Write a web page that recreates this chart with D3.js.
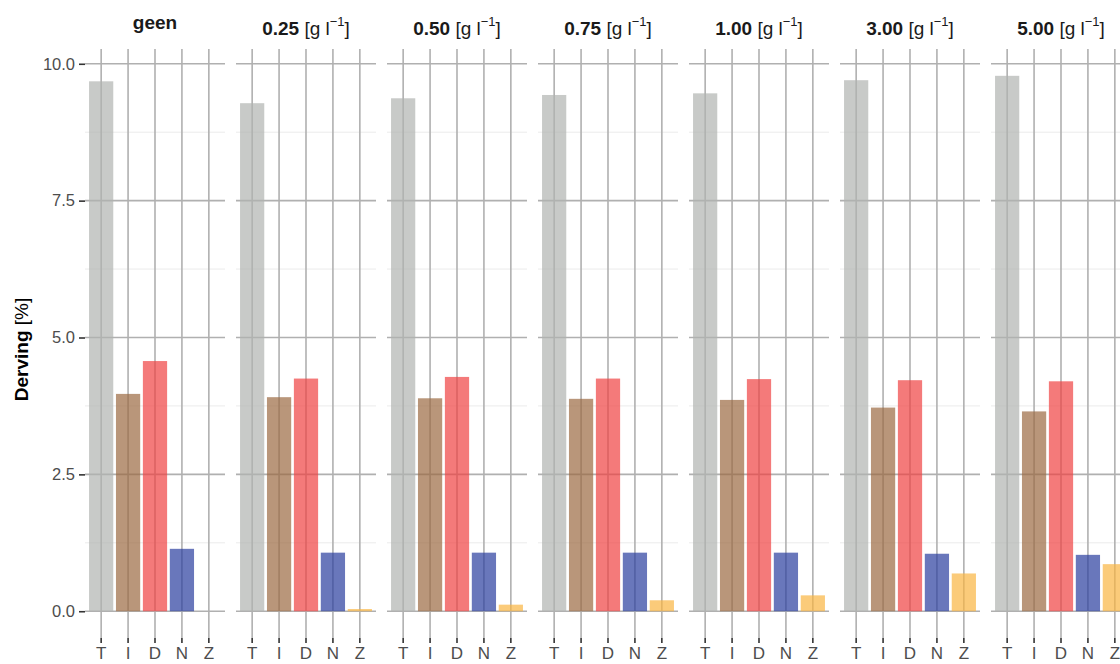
<!DOCTYPE html>
<html>
<head>
<meta charset="utf-8">
<script src="https://cdn.jsdelivr.net/npm/d3@7"></script>
<style>
  html, body { margin: 0; padding: 0; background: #ffffff; }
  svg { display: block; font-family: "Liberation Sans", Arial, sans-serif; }
</style>
</head>
<body>
<svg id="chart" width="1120" height="664"></svg>
<script>
// ---- data ----
const categories = ["T", "I", "D", "N", "Z"];
const panelKeys = ["geen", "0.25", "0.50", "0.75", "1.00", "3.00", "5.00"];
const valuesT = [9.68, 9.28, 9.37, 9.43, 9.46, 9.70, 9.78];
const valuesI = [3.97, 3.91, 3.89, 3.88, 3.86, 3.72, 3.65];
const valuesD = [4.57, 4.25, 4.28, 4.25, 4.24, 4.22, 4.20];
const valuesN = [1.14, 1.07, 1.07, 1.07, 1.07, 1.05, 1.03];
const valuesZ = [0.00, 0.04, 0.12, 0.20, 0.29, 0.69, 0.86];
const yTicks = [0, 2.5, 5, 7.5, 10];
const yMinorTicks = [1.25, 3.75, 6.25, 8.75];
const yTitle = ["Derving", " [%]"];
const colors = { T: "#b1b3b1", I: "#9b6941", D: "#ef4142", N: "#2a3d9e", Z: "#f9b541" };

const seriesByCat = { T: valuesT, I: valuesI, D: valuesD, N: valuesN, Z: valuesZ };

// ---- layout ----
const svg = d3.select("#chart");
const panelLeft0 = 85, panelW = 140, panelGap = 11;
const panelTop = 49, panelBottom = 638;

const y = d3.scaleLinear().domain([-0.489, 10.27]).range([panelBottom, panelTop]);
const x = d3.scaleBand().domain(categories).range([0, panelW]).paddingInner(0.1).paddingOuter(0.15);

const panelX = d3.scaleLinear().domain([0, 1]).range([panelLeft0, panelLeft0 + panelW + panelGap]);

panelKeys.forEach((key, i) => {
  const g = svg.append("g").attr("transform", `translate(${panelX(i)},0)`);

  // minor grid
  g.selectAll("line.minor").data(yMinorTicks).join("line")
    .attr("x1", 0).attr("x2", panelW)
    .attr("y1", d => y(d)).attr("y2", d => y(d))
    .attr("stroke", "#ebebeb").attr("stroke-width", 1);

  // major grid horizontal
  g.selectAll("line.hmaj").data(yTicks).join("line")
    .attr("x1", 0).attr("x2", panelW)
    .attr("y1", d => y(d)).attr("y2", d => y(d))
    .attr("stroke", "#b0b0b0").attr("stroke-width", 1.6);

  // major grid vertical
  g.selectAll("line.vmaj").data(categories).join("line")
    .attr("x1", d => x(d) + x.bandwidth() / 2).attr("x2", d => x(d) + x.bandwidth() / 2)
    .attr("y1", panelTop).attr("y2", panelBottom)
    .attr("stroke", "#b0b0b0").attr("stroke-width", 1.6);

  // bars
  const data = categories.map(c => ({ cat: c, v: seriesByCat[c][i] }));
  g.selectAll("rect.bar").data(data).join("rect")
    .attr("x", d => x(d.cat))
    .attr("width", x.bandwidth())
    .attr("y", d => y(d.v))
    .attr("height", d => y(0) - y(d.v))
    .attr("fill", d => colors[d.cat])
    .attr("fill-opacity", 0.7);

  // x axis
  const xa = g.append("g").attr("transform", `translate(0,${panelBottom})`)
    .call(d3.axisBottom(x).tickSize(5).tickPadding(4));
  xa.select(".domain").remove();
  xa.selectAll(".tick line").attr("stroke", "#333333").attr("stroke-width", 1.6);
  xa.selectAll(".tick text").attr("fill", "#4d4d4d")
    .style("font-size", "17px").style("font-family", "Liberation Sans, Arial, sans-serif");

  // title
  const t = g.append("text")
    .attr("x", panelW / 2)
    .attr("y", i === 0 ? 29 : 35)
    .attr("text-anchor", "middle")
    .attr("fill", "#1a1a1a")
    .style("font-size", "19px");
  if (key === "geen") {
    t.append("tspan").attr("font-weight", "bold").text(key);
  } else {
    t.append("tspan").attr("font-weight", "bold").text(key);
    t.append("tspan").text(" [g l");
    t.append("tspan").attr("dy", -9).style("font-size", "13px").text("\u22121");
    t.append("tspan").attr("dy", 9).text("]");
  }
});

// y axis
const ya = svg.append("g").attr("transform", `translate(${panelLeft0},0)`)
  .call(d3.axisLeft(y).tickValues(yTicks).tickFormat(d3.format(".1f")).tickSize(6).tickPadding(4));
ya.select(".domain").remove();
ya.selectAll(".tick line").attr("stroke", "#333333").attr("stroke-width", 1.6);
ya.selectAll(".tick text").attr("fill", "#4d4d4d")
  .style("font-size", "16.5px").style("font-family", "Liberation Sans, Arial, sans-serif");

// y title
svg.append("text")
  .attr("transform", `translate(28,${(y(0) + y(10)) / 2 + 12}) rotate(-90)`)
  .attr("text-anchor", "middle")
  .attr("fill", "#000")
  .style("font-size", "19px")
  .selectAll("tspan").data([[yTitle[0], "bold"], [yTitle[1], "normal"]]).join("tspan")
  .attr("font-weight", d => d[1]).text(d => d[0]);
</script>
</body>
</html>
